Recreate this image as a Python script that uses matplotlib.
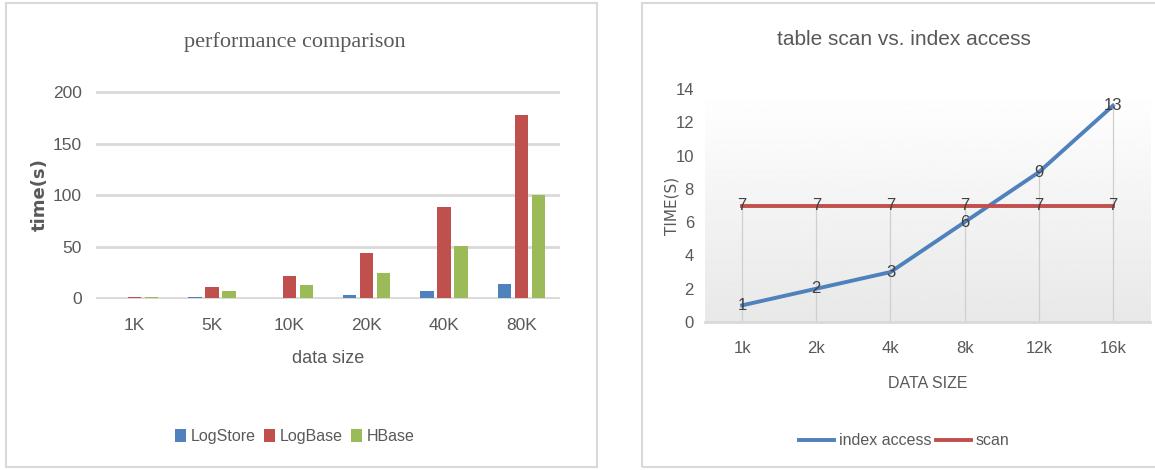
import matplotlib.pyplot as plt
import numpy as np
from matplotlib import font_manager
from matplotlib.patches import Rectangle

# Data - left chart
sizes = ['1K', '5K', '10K', '20K', '40K', '80K']
logstore = [0.3, 1.5, 0, 3, 7, 14]
logbase = [1.5, 11, 22, 44, 89, 178]
hbase = [1.5, 7, 13, 25, 51, 100]

# Data - right chart
sizes2 = ['1k', '2k', '4k', '8k', '12k', '16k']
index_access = [1, 2, 3, 6, 9, 13]
scan = [7, 7, 7, 7, 7, 7]

installed = {f.name for f in font_manager.fontManager.ttflist}
narrow = 'Liberation Sans Narrow' if 'Liberation Sans Narrow' in installed else 'Liberation Sans'
plt.rcParams['font.family'] = [narrow, 'DejaVu Sans']

BLUE, RED, GREEN = '#4F81BD', '#C0504D', '#9BBB59'
TXT = '#595959'
GRID = '#d9d9d9'

fig = plt.figure(figsize=(11.55, 4.7), dpi=100)

# panel frames
fig.patches.append(Rectangle((6/1155, 3/470), 591/1155, 464/470, transform=fig.transFigure,
                             fill=False, edgecolor='#d9d9d9', lw=1.5))
fig.patches.append(Rectangle((642/1155, 3/470), 520/1155, 464/470, transform=fig.transFigure,
                             fill=False, edgecolor='#d9d9d9', lw=1.5))

# ---- left: performance comparison ----
ax = fig.add_axes([0.0831, 0.3638, 0.4017, 0.4426])
x = np.arange(len(sizes))
w = 0.17
off = 0.22
ax.bar(x - off, logstore, w, color=BLUE, label='LogStore', zorder=3)
ax.bar(x, logbase, w, color=RED, label='LogBase', zorder=3)
ax.bar(x + off, hbase, w, color=GREEN, label='HBase', zorder=3)
ax.set_xlim(-0.5, len(sizes) - 0.5)
ax.set_ylim(-0.5, 201)
ax.set_yticks([0, 50, 100, 150, 200])
ax.set_xticks(x)
ax.set_xticklabels(sizes)
ax.yaxis.grid(True, color=GRID, lw=2)
ax.set_axisbelow(True)
for s in ax.spines.values():
    s.set_visible(False)
ax.tick_params(length=0, labelsize=12.5, labelcolor=TXT, pad=10)
ax.tick_params(axis='x', pad=14)
ax.set_xlabel('data size', fontsize=13, color=TXT, labelpad=12)
ax.set_ylabel('time(s)', fontsize=13, color=TXT, fontweight='bold', family='DejaVu Sans', labelpad=3)
fig.text(0.2554, 0.91, 'performance comparison', ha='center', va='center', fontsize=16,
         color=TXT, family='Liberation Serif')
ax.legend(loc='center', bbox_to_anchor=(0.2554, 0.072), bbox_transform=fig.transFigure,
          ncol=3, frameon=False, fontsize=11.5, handlelength=0.7, handleheight=0.9,
          handletextpad=0.3, columnspacing=0.5, labelcolor=TXT)

# ---- right: table scan vs. index access ----
ax2 = fig.add_axes([0.6104, 0.3149, 0.3853, 0.4957])
x2 = np.arange(len(sizes2))
ax2.set_xlim(-0.5, len(sizes2) - 0.5)
ax2.set_ylim(0, 14)
grad = np.linspace(0.91, 1.0, 256).reshape(-1, 1)
ax2.imshow(grad, extent=[0, 1, 0, 1], transform=ax2.transAxes, cmap='gray', vmin=0, vmax=1,
           aspect='auto', origin='lower', zorder=0)
tops = np.maximum(index_access, scan)
ax2.vlines(x2, 0, tops, color='#cfcfcf', lw=0.9, zorder=1)
ax2.plot(x2, index_access, color=BLUE, lw=2.8, zorder=3, label='index access')
ax2.plot(x2, scan, color=RED, lw=2.8, zorder=3, label='scan')
for xi, v in zip(x2, index_access):
    ax2.text(xi, v, str(v), ha='center', va='center', fontsize=12, color='#404040', zorder=4)
for xi, v in zip(x2, scan):
    ax2.text(xi, v, str(v), ha='center', va='center', fontsize=12, color='#404040', zorder=4)
ax2.set_xticks(x2)
ax2.set_xticklabels(sizes2)
ax2.set_yticks(range(0, 15, 2))
for k, s in ax2.spines.items():
    s.set_visible(k == 'bottom')
ax2.spines['bottom'].set_color(GRID)
ax2.spines['bottom'].set_linewidth(2)
ax2.tick_params(length=0, labelsize=12, labelcolor=TXT, pad=8)
ax2.tick_params(axis='x', pad=14)
ax2.set_xlabel('DATA SIZE', fontsize=11.5, color=TXT, labelpad=14)
ax2.set_ylabel('TIME(S)', fontsize=11, color=TXT, family='DejaVu Sans', labelpad=-3)
fig.text(0.783, 0.915, 'table scan vs. index access', ha='center', va='center', fontsize=15,
         color=TXT)
ax2.legend(loc='center', bbox_to_anchor=(0.783, 0.062), bbox_transform=fig.transFigure,
           ncol=2, frameon=False, fontsize=11.5, handlelength=2.2, handletextpad=0.3,
           columnspacing=0.3, labelcolor=TXT)

fig.savefig('out.png', dpi=100)
